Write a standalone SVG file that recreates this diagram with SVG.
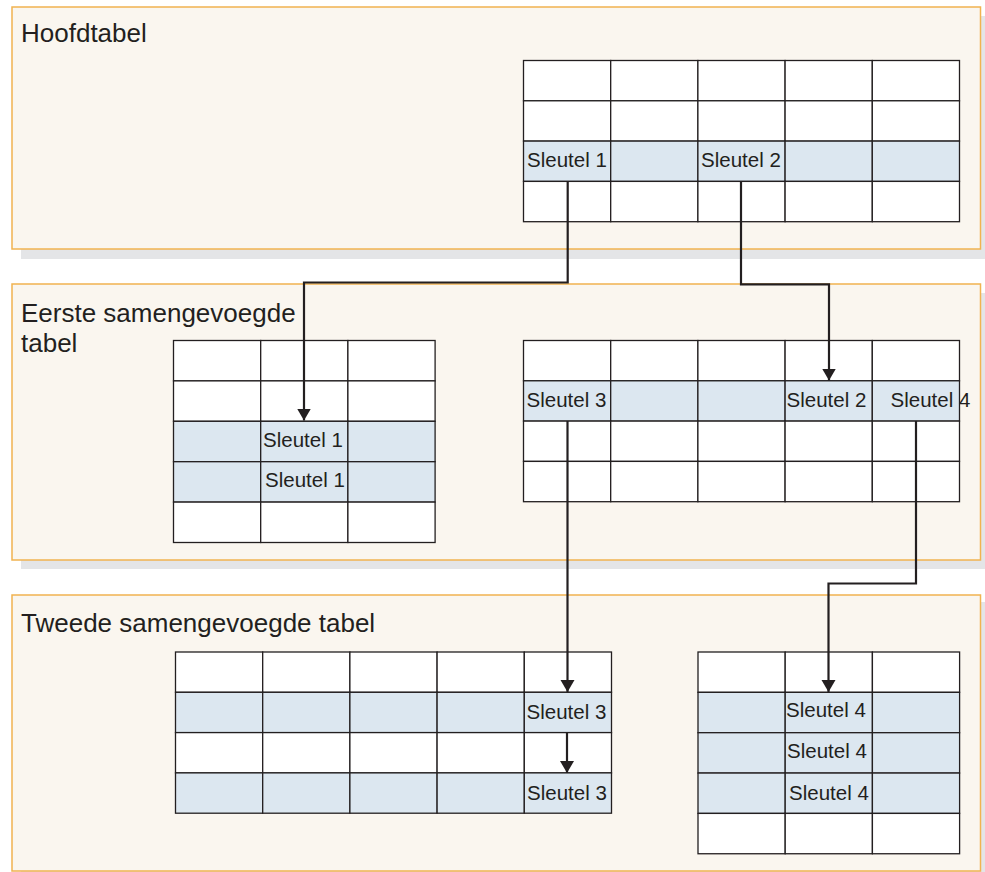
<svg xmlns="http://www.w3.org/2000/svg" width="985" height="872" viewBox="0 0 985 872">
<style>
.shadow{fill:#e4e5e7;stroke:none}
.panel{fill:#faf6ef;stroke:#f1b350;stroke-width:1.5}
.title{font-family:"Liberation Sans",Arial,sans-serif;font-size:26px;fill:#231f20}
.cell{fill:#ffffff;stroke:#231f20;stroke-width:1.3}
.hl{fill:#dce7f0;stroke:#231f20;stroke-width:1.3}
.key{font-family:"Liberation Sans",Arial,sans-serif;font-size:20.5px;fill:#231f20}
.conn{fill:none;stroke:#231f20;stroke-width:2.2;stroke-linejoin:miter}
</style>
<defs>
<marker id="arr" markerUnits="userSpaceOnUse" markerWidth="13" markerHeight="15" refX="12" refY="7" orient="auto" viewBox="0 0 13 14">
<path d="M0,0 L12,7 L0,14 z" fill="#231f20"/>
</marker>
</defs>
<rect width="985" height="872" fill="#ffffff"/>

<g id="panel-hoofdtabel">
<rect class="shadow" x="21" y="16" width="970" height="243"/>
<rect class="panel" x="12" y="7" width="968.5" height="242"/>
<text class="title" x="21" y="41.5">Hoofdtabel</text>
</g>

<g id="panel-eerste">
<rect class="shadow" x="21" y="293" width="970" height="276"/>
<rect class="panel" x="12" y="284" width="968.5" height="276"/>
<text class="title" x="21" y="321.5">Eerste samengevoegde</text>
<text class="title" x="21" y="351.5">tabel</text>
</g>

<g id="panel-tweede">
<rect class="shadow" x="21" y="602" width="970" height="276"/>
<rect class="panel" x="12" y="595" width="968.5" height="276"/>
<text class="title" x="21" y="632">Tweede samengevoegde tabel</text>
</g>

<g id="table-hoofd">
<g class="row">
<rect class="cell" x="523.5" y="60.5" width="87.2" height="40.3"/><rect class="cell" x="610.7" y="60.5" width="87.2" height="40.3"/><rect class="cell" x="697.9" y="60.5" width="87.2" height="40.3"/><rect class="cell" x="785.1" y="60.5" width="87.2" height="40.3"/><rect class="cell" x="872.3" y="60.5" width="87.2" height="40.3"/>
</g>
<g class="row">
<rect class="cell" x="523.5" y="100.8" width="87.2" height="40.3"/><rect class="cell" x="610.7" y="100.8" width="87.2" height="40.3"/><rect class="cell" x="697.9" y="100.8" width="87.2" height="40.3"/><rect class="cell" x="785.1" y="100.8" width="87.2" height="40.3"/><rect class="cell" x="872.3" y="100.8" width="87.2" height="40.3"/>
</g>
<g class="row">
<rect class="hl" x="523.5" y="141.1" width="87.2" height="40.3"/><rect class="hl" x="610.7" y="141.1" width="87.2" height="40.3"/><rect class="hl" x="697.9" y="141.1" width="87.2" height="40.3"/><rect class="hl" x="785.1" y="141.1" width="87.2" height="40.3"/><rect class="hl" x="872.3" y="141.1" width="87.2" height="40.3"/>
</g>
<g class="row">
<rect class="cell" x="523.5" y="181.4" width="87.2" height="40.3"/><rect class="cell" x="610.7" y="181.4" width="87.2" height="40.3"/><rect class="cell" x="697.9" y="181.4" width="87.2" height="40.3"/><rect class="cell" x="785.1" y="181.4" width="87.2" height="40.3"/><rect class="cell" x="872.3" y="181.4" width="87.2" height="40.3"/>
</g>
<text class="key" x="527" y="167">Sleutel 1</text>
<text class="key" x="701" y="167">Sleutel 2</text>
</g>

<g id="table-eerste-links">
<rect class="cell" x="173.5" y="340.5" width="87.2" height="40.4"/><rect class="cell" x="260.7" y="340.5" width="87.2" height="40.4"/><rect class="cell" x="347.9" y="340.5" width="87.2" height="40.4"/>
<rect class="cell" x="173.5" y="380.9" width="87.2" height="40.4"/><rect class="cell" x="260.7" y="380.9" width="87.2" height="40.4"/><rect class="cell" x="347.9" y="380.9" width="87.2" height="40.4"/>
<rect class="hl" x="173.5" y="421.3" width="87.2" height="40.4"/><rect class="hl" x="260.7" y="421.3" width="87.2" height="40.4"/><rect class="hl" x="347.9" y="421.3" width="87.2" height="40.4"/>
<rect class="hl" x="173.5" y="461.7" width="87.2" height="40.4"/><rect class="hl" x="260.7" y="461.7" width="87.2" height="40.4"/><rect class="hl" x="347.9" y="461.7" width="87.2" height="40.4"/>
<rect class="cell" x="173.5" y="502.1" width="87.2" height="40.4"/><rect class="cell" x="260.7" y="502.1" width="87.2" height="40.4"/><rect class="cell" x="347.9" y="502.1" width="87.2" height="40.4"/>
<text class="key" x="263" y="447">Sleutel 1</text>
<text class="key" x="265" y="487">Sleutel 1</text>
</g>

<g id="table-eerste-rechts">
<rect class="cell" x="523.5" y="340.5" width="87.2" height="40.3"/><rect class="cell" x="610.7" y="340.5" width="87.2" height="40.3"/><rect class="cell" x="697.9" y="340.5" width="87.2" height="40.3"/><rect class="cell" x="785.1" y="340.5" width="87.2" height="40.3"/><rect class="cell" x="872.3" y="340.5" width="87.2" height="40.3"/>
<rect class="hl" x="523.5" y="380.8" width="87.2" height="40.3"/><rect class="hl" x="610.7" y="380.8" width="87.2" height="40.3"/><rect class="hl" x="697.9" y="380.8" width="87.2" height="40.3"/><rect class="hl" x="785.1" y="380.8" width="87.2" height="40.3"/><rect class="hl" x="872.3" y="380.8" width="87.2" height="40.3"/>
<rect class="cell" x="523.5" y="421.1" width="87.2" height="40.3"/><rect class="cell" x="610.7" y="421.1" width="87.2" height="40.3"/><rect class="cell" x="697.9" y="421.1" width="87.2" height="40.3"/><rect class="cell" x="785.1" y="421.1" width="87.2" height="40.3"/><rect class="cell" x="872.3" y="421.1" width="87.2" height="40.3"/>
<rect class="cell" x="523.5" y="461.4" width="87.2" height="40.3"/><rect class="cell" x="610.7" y="461.4" width="87.2" height="40.3"/><rect class="cell" x="697.9" y="461.4" width="87.2" height="40.3"/><rect class="cell" x="785.1" y="461.4" width="87.2" height="40.3"/><rect class="cell" x="872.3" y="461.4" width="87.2" height="40.3"/>
<text class="key" x="526.5" y="407">Sleutel 3</text>
<text class="key" x="786.5" y="407">Sleutel 2</text>
<text class="key" x="890.5" y="407">Sleutel 4</text>
</g>

<g id="table-tweede-links">
<rect class="cell" x="175.5" y="652" width="87.2" height="40.3"/><rect class="cell" x="262.7" y="652" width="87.2" height="40.3"/><rect class="cell" x="349.9" y="652" width="87.2" height="40.3"/><rect class="cell" x="437.1" y="652" width="87.2" height="40.3"/><rect class="cell" x="524.3" y="652" width="87.2" height="40.3"/>
<rect class="hl" x="175.5" y="692.3" width="87.2" height="40.3"/><rect class="hl" x="262.7" y="692.3" width="87.2" height="40.3"/><rect class="hl" x="349.9" y="692.3" width="87.2" height="40.3"/><rect class="hl" x="437.1" y="692.3" width="87.2" height="40.3"/><rect class="hl" x="524.3" y="692.3" width="87.2" height="40.3"/>
<rect class="cell" x="175.5" y="732.6" width="87.2" height="40.3"/><rect class="cell" x="262.7" y="732.6" width="87.2" height="40.3"/><rect class="cell" x="349.9" y="732.6" width="87.2" height="40.3"/><rect class="cell" x="437.1" y="732.6" width="87.2" height="40.3"/><rect class="cell" x="524.3" y="732.6" width="87.2" height="40.3"/>
<rect class="hl" x="175.5" y="772.9" width="87.2" height="40.3"/><rect class="hl" x="262.7" y="772.9" width="87.2" height="40.3"/><rect class="hl" x="349.9" y="772.9" width="87.2" height="40.3"/><rect class="hl" x="437.1" y="772.9" width="87.2" height="40.3"/><rect class="hl" x="524.3" y="772.9" width="87.2" height="40.3"/>
<text class="key" x="526.5" y="718.5">Sleutel 3</text>
<text class="key" x="527" y="799.5">Sleutel 3</text>
</g>

<g id="table-tweede-rechts">
<rect class="cell" x="698" y="652" width="87.2" height="40.35"/><rect class="cell" x="785.2" y="652" width="87.2" height="40.35"/><rect class="cell" x="872.4" y="652" width="87.2" height="40.35"/>
<rect class="hl" x="698" y="692.35" width="87.2" height="40.35"/><rect class="hl" x="785.2" y="692.35" width="87.2" height="40.35"/><rect class="hl" x="872.4" y="692.35" width="87.2" height="40.35"/>
<rect class="hl" x="698" y="732.7" width="87.2" height="40.35"/><rect class="hl" x="785.2" y="732.7" width="87.2" height="40.35"/><rect class="hl" x="872.4" y="732.7" width="87.2" height="40.35"/>
<rect class="hl" x="698" y="773.05" width="87.2" height="40.35"/><rect class="hl" x="785.2" y="773.05" width="87.2" height="40.35"/><rect class="hl" x="872.4" y="773.05" width="87.2" height="40.35"/>
<rect class="cell" x="698" y="813.4" width="87.2" height="40.35"/><rect class="cell" x="785.2" y="813.4" width="87.2" height="40.35"/><rect class="cell" x="872.4" y="813.4" width="87.2" height="40.35"/>
<text class="key" x="786" y="717">Sleutel 4</text>
<text class="key" x="787" y="758">Sleutel 4</text>
<text class="key" x="789" y="800">Sleutel 4</text>
</g>

<g id="connectors">
<path class="conn" d="M567.7,181.5 V282.5 H304 V420.5" marker-end="url(#arr)"/>
<path class="conn" d="M741,181.5 V284.3 H829 V380.5" marker-end="url(#arr)"/>
<path class="conn" d="M567.5,421 V692" marker-end="url(#arr)"/>
<path class="conn" d="M916,421 V583.5 H828.5 V692" marker-end="url(#arr)"/>
<path class="conn" d="M567,732.6 V773" marker-end="url(#arr)"/>
</g>
</svg>
